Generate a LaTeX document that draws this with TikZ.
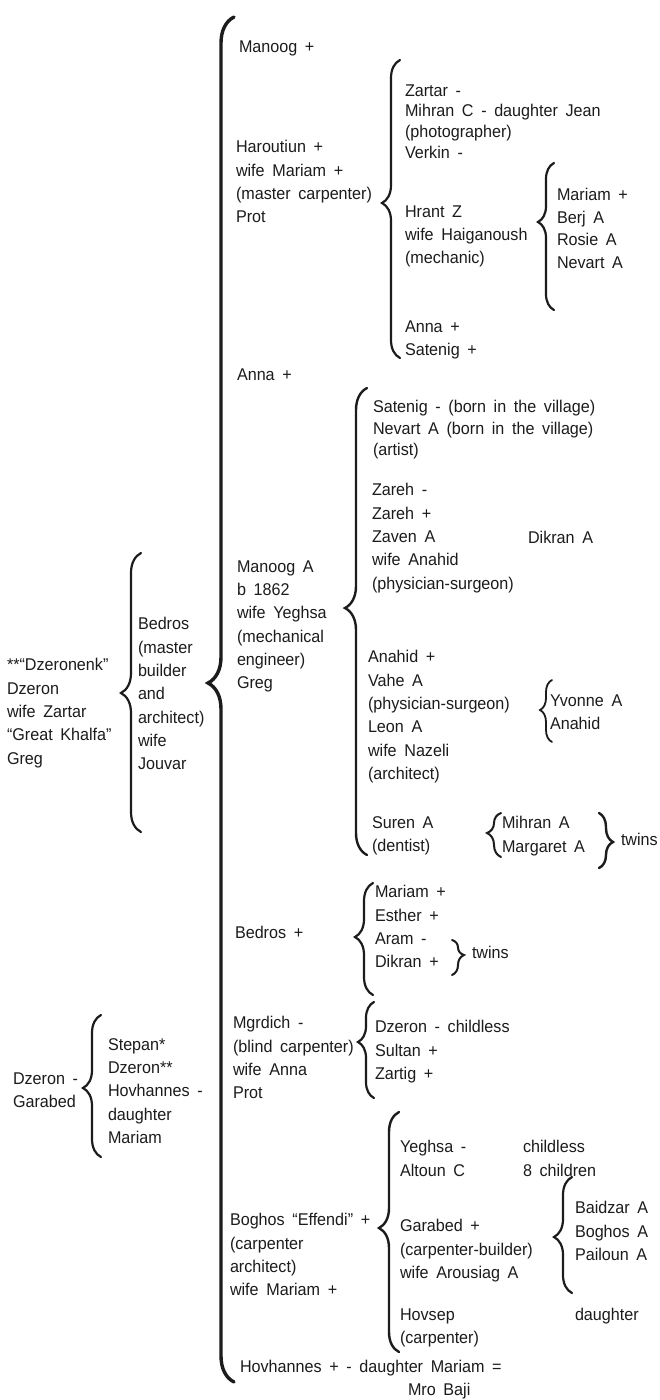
\documentclass[tikz,border=0pt]{standalone}
\usepackage{fontspec}
\setmainfont{Liberation Sans}[FakeStretch=0.95, WordSpace=1.7]
\usetikzlibrary{decorations.pathreplacing}
\definecolor{ink}{HTML}{1C1C1C}

% brace opening to the left: stroke x, top y, tip y, bottom y, amplitude, line width
\newcommand{\bracetoleft}[6]{%
  \pgfmathsetmacro{\brasp}{(#4-#3)/(#4-#2)}%
  \pgfmathsetmacro{\brx}{#1+#5/2}%
  \draw[brc, line width=#6pt, decoration={brace, amplitude=#5pt, aspect=\brasp}] (\brx,#4) -- (\brx,#2);}
% brace opening to the right: stroke x, top y, tip y, bottom y, amplitude, line width
\newcommand{\bracetoright}[6]{%
  \pgfmathsetmacro{\brasp}{(#3-#2)/(#4-#2)}%
  \pgfmathsetmacro{\brx}{#1-#5/2}%
  \draw[brc, line width=#6pt, decoration={brace, amplitude=#5pt, aspect=\brasp}] (\brx,#2) -- (\brx,#4);}

\begin{document}
\begin{tikzpicture}[x=1pt, y=-1pt,
  txt/.style={anchor=north west, inner sep=0pt, outer sep=0pt, align=left, yshift=6.5pt,
              text=ink, font=\fontsize{17}{23.3}\selectfont},
  tight/.style={font=\fontsize{17}{20.8}\selectfont},
  brc/.style={draw=ink, decorate, line cap=round}]
\useasboundingbox (0,0) rectangle (660,1400);
\fill[white] (0,0) rectangle (660,1400);

% --- founders
\node[txt] (dzeronenk) at (7,665) {**``Dzeronenk''\\Dzeron\\wife Zartar\\``Great Khalfa''\\Greg};
\node[txt] (bedros) at (138,624) {Bedros\\(master\\builder\\and\\architect)\\wife\\Jouvar};
\node[txt] (dzgarabed) at (13,1079) {Dzeron -\\Garabed};
\node[txt] (stepan) at (108,1045) {Stepan*\\Dzeron**\\Hovhannes -\\daughter\\Mariam};

% --- children of Bedros
\node[txt] (manoog) at (239,47) {Manoog +};
\node[txt] (haroutiun) at (236,147) {Haroutiun +\\wife Mariam +\\(master carpenter)\\Prot};
\node[txt] (anna) at (237,375) {Anna +};
\node[txt] (manooga) at (237,567) {Manoog A\\b 1862\\wife Yeghsa\\(mechanical\\engineer)\\Greg};
\node[txt] (bedrosp) at (235,933) {Bedros +};
\node[txt] (mgrdich) at (233,1023) {Mgrdich -\\(blind carpenter)\\wife Anna\\Prot};
\node[txt] (boghos) at (230,1220) {Boghos ``Effendi'' +\\(carpenter\\architect)\\wife Mariam +};
\node[txt] (hovhannes) at (240,1367) {Hovhannes + - daughter Mariam =};
\node[txt] (mrobaji) at (408,1390) {Mro Baji};

% --- children of Haroutiun
\node[txt, tight] (zartar) at (405,91) {Zartar -\\Mihran C - daughter Jean\\(photographer)\\Verkin -};
\node[txt] (hrant) at (405,212) {Hrant Z\\wife Haiganoush\\(mechanic)};
\node[txt] (annasat) at (405,327) {Anna +\\Satenig +};
\node[txt, font=\fontsize{17}{22.4}\selectfont] (mariamh) at (557,195) {Mariam +\\Berj A\\Rosie A\\Nevart A};

% --- children of Manoog A
\node[txt, font=\fontsize{17}{21.5}\selectfont] (satenig) at (373,407) {Satenig - (born in the village)\\Nevart A (born in the village)\\(artist)};
\node[txt] (zareh) at (372,490) {Zareh -\\Zareh +\\Zaven A\\wife Anahid\\(physician-surgeon)};
\node[txt] (dikrana) at (528,538) {Dikran A};
\node[txt] (anahid) at (368,657) {Anahid +\\Vahe A\\(physician-surgeon)\\Leon A\\wife Nazeli\\(architect)};
\node[txt] (yvonne) at (550,701) {Yvonne A\\Anahid};
\node[txt] (suren) at (372,823) {Suren A\\(dentist)};
\node[txt] (mihran) at (502,823) {Mihran A\\Margaret A};
\node[txt] (twinsa) at (621,840) {twins};

% --- children of Bedros +
\node[txt] (mariamb) at (375,892) {Mariam +\\Esther +\\Aram -\\Dikran +};
\node[txt] (twinsb) at (472,953) {twins};

% --- children of Mgrdich
\node[txt] (dzeronc) at (375,1027) {Dzeron - childless\\Sultan +\\Zartig +};

% --- children of Boghos
\node[txt] (yeghsa) at (400,1147) {Yeghsa -\\Altoun C};
\node[txt] (childless) at (523,1147) {childless\\8 children};
\node[txt] (garabed) at (400,1226) {Garabed +\\(carpenter-builder)\\wife Arousiag A};
\node[txt] (hovsep) at (400,1315) {Hovsep\\(carpenter)};
\node[txt] (baidzar) at (575,1208) {Baidzar A\\Boghos A\\Pailoun A};
\node[txt] (daughter) at (575,1315) {daughter};

% --- braces
\bracetoleft{221}{17}{683}{1382}{26}{3.4}
\bracetoleft{131}{553}{693}{832}{20}{2.2}
\bracetoleft{391}{60}{203}{358}{18}{2.2}
\bracetoleft{546}{163}{222}{310}{16}{2.2}
\bracetoleft{356}{388}{608}{855}{22}{2.4}
\bracetoleft{546}{680}{710}{742}{12}{1.8}
\bracetoleft{494}{813}{833}{857}{14}{2}
\bracetoright{606}{813}{842}{868}{14}{2.4}
\bracetoleft{364}{883}{937}{995}{18}{2.2}
\bracetoright{458}{940}{955}{975}{12}{2}
\bracetoleft{366}{1002}{1042}{1098}{16}{2.2}
\bracetoleft{92}{1015}{1088}{1157}{18}{2.2}
\bracetoleft{389}{1112}{1228}{1352}{20}{2.4}
\bracetoleft{563}{1177}{1237}{1293}{18}{2.2}
\end{tikzpicture}
\end{document}
